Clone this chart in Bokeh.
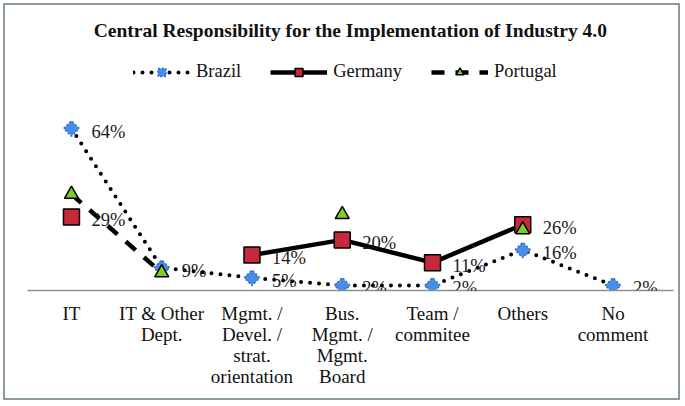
import math
from bokeh.plotting import figure
from bokeh.models import (ColumnDataSource, Legend, LegendItem, LabelSet, Range1d,
                          FixedTicker)
from bokeh.embed import file_html
from bokeh.resources import INLINE

categories = ["IT", "IT & Other\nDept.", "Mgmt. /\nDevel. /\nstrat.\norientation",
              "Bus.\nMgmt. /\nMgmt.\nBoard", "Team /\ncommitee", "Others", "No\ncomment"]
brazil = [64, 9, 5, 2, 2, 16, 2]
germany = [29, None, 14, 20, 11, 26, None]
portugal = [38, 7, None, 30, None, 24, None]

xs = list(range(len(categories)))

def clean(vals):
    return [float("nan") if v is None else v for v in vals]

SERIF = "Liberation Serif"

p = figure(frame_width=646, frame_height=245, output_backend="svg", toolbar_location=None,
           x_range=Range1d(-0.487, 6.67), y_range=Range1d(0, 96.8),
           min_border_left=22, min_border_right=5, min_border_bottom=108,
           min_border_top=40)
p.styles = {"border": "2px solid #8c9c9c", "margin": "3px"}
p.title.text = "Central Responsibility for the Implementation of Industry 4.0"
p.title.align = "center"
p.title.text_font = SERIF
p.title.text_font_size = "19.5px"
p.title.text_font_style = "bold"
p.title.text_color = "#111111"
p.outline_line_color = None
p.xgrid.grid_line_color = None
p.ygrid.grid_line_color = None
p.yaxis.visible = False
p.xaxis.ticker = FixedTicker(ticks=xs)
p.xaxis.major_label_overrides = {i: c for i, c in zip(xs, categories)}
p.xaxis.major_tick_line_color = None
p.xaxis.minor_tick_line_color = None
p.xaxis.axis_line_color = "#8a9090"
p.xaxis.axis_line_width = 1.5
p.xaxis.major_label_text_font = SERIF
p.xaxis.major_label_text_font_size = "19px"
p.xaxis.major_label_text_line_height = 1.0
p.xaxis.major_label_text_color = "#111111"
p.xaxis.major_label_standoff = 6

# Brazil
b_line = p.line(xs, brazil, line_color="black", line_width=4, line_dash="0 9",
                line_cap="round")
b_mark = p.scatter(xs, brazil, marker="square", angle=math.pi / 4, size=11,
                   fill_color="#4a8de6", line_color="#2f6fc8", line_width=1.5,
                   line_dash="2 2")
# Germany
g_line = p.line(xs, clean(germany), line_color="black", line_width=4.5)
g_mark = p.scatter(xs, clean(germany), marker="square", size=16, fill_color="#c8283c",
                   line_color="black", line_width=1.5)
# Portugal
p_line = p.line(xs, clean(portugal), line_color="black", line_width=4.5, line_dash="13 11")
p_mark = p.scatter(xs, clean(portugal), marker="triangle", size=14, fill_color="#7ccf22",
                   line_color="black", line_width=1.5)

bsrc = ColumnDataSource(dict(x=xs, y=brazil, t=[f"{v}%" for v in brazil]))
gx = [x for x, v in zip(xs, germany) if v is not None]
gy = [v for v in germany if v is not None]
gsrc = ColumnDataSource(dict(x=gx, y=gy, t=[f"{v}%" for v in gy]))
for src in (bsrc, gsrc):
    p.add_layout(LabelSet(x="x", y="y", text="t", source=src, x_offset=20, y_offset=-3,
                          text_font=SERIF, text_font_size="18.5px", text_color="#1a1a1a",
                          text_baseline="middle", text_align="left"))

legend = Legend(items=[LegendItem(label="Brazil", renderers=[b_line, b_mark]),
                       LegendItem(label="Germany", renderers=[g_line, g_mark]),
                       LegendItem(label="Portugal", renderers=[p_line, p_mark])],
                orientation="horizontal", location=(106, 208),
                label_text_font=SERIF, label_text_font_size="18.5px",
                label_text_color="#111111", glyph_width=57, spacing=29,
                label_standoff=6, border_line_color=None, background_fill_alpha=0,
                padding=0, margin=0)
p.add_layout(legend, "center")

open("out.html", "w").write(file_html(p, INLINE))
